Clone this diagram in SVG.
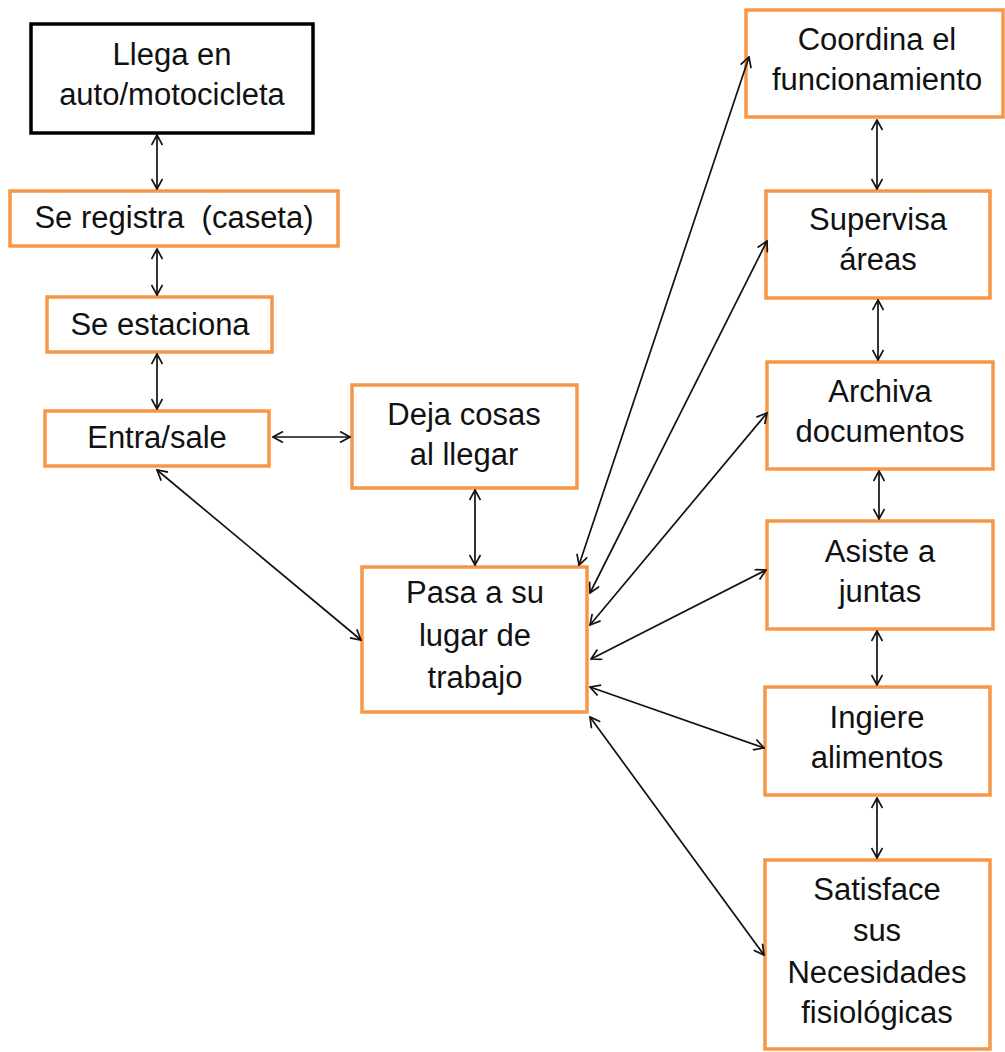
<svg xmlns="http://www.w3.org/2000/svg" width="1005" height="1052" viewBox="0 0 1005 1052">
<style>
.box{fill:#fff;stroke:#F79646;stroke-width:3.5}
.black{fill:#fff;stroke:#000;stroke-width:3.5}
text{font-family:"Liberation Sans",Arial,sans-serif;font-size:31px;fill:#111;text-anchor:middle}
.c line{stroke:#111;stroke-width:1.7;marker-start:url(#ah);marker-end:url(#ah)}
</style>
<defs>
<marker id="ah" viewBox="0 0 12 12" refX="11" refY="6" markerWidth="12" markerHeight="12" markerUnits="userSpaceOnUse" orient="auto-start-reverse">
<path d="M1,0.5 L11,6 L1,11.5" fill="none" stroke="#111" stroke-width="1.7"/>
</marker>
</defs>
<rect width="1005" height="1052" fill="#fff"/>
<g id="n1"><rect class="black" x="31" y="24" width="282" height="109"/><text x="172" y="65">Llega en</text><text x="172" y="105">auto/motocicleta</text></g>
<g id="n2"><rect class="box" x="10" y="191" width="328" height="55"/><text x="174" y="228" xml:space="preserve">Se registra  (caseta)</text></g>
<g id="n3"><rect class="box" x="47" y="297" width="225" height="55"/><text x="160" y="335">Se estaciona</text></g>
<g id="n4"><rect class="box" x="45" y="411" width="224" height="55"/><text x="157" y="448">Entra/sale</text></g>
<g id="n5"><rect class="box" x="352" y="385" width="225" height="103"/><text x="464" y="425">Deja cosas</text><text x="464" y="465">al llegar</text></g>
<g id="n6"><rect class="box" x="362" y="567" width="225" height="145"/><text x="475" y="603">Pasa a su</text><text x="475" y="646">lugar de</text><text x="475" y="688">trabajo</text></g>
<g id="n7"><rect class="box" x="746" y="10" width="257" height="107"/><text x="877" y="50">Coordina el</text><text x="877" y="90">funcionamiento</text></g>
<g id="n8"><rect class="box" x="766" y="191" width="224" height="107"/><text x="878" y="230">Supervisa</text><text x="878" y="270">áreas</text></g>
<g id="n9"><rect class="box" x="767" y="362" width="226" height="107"/><text x="880" y="402">Archiva</text><text x="880" y="442">documentos</text></g>
<g id="n10"><rect class="box" x="767" y="521" width="226" height="108"/><text x="880" y="562">Asiste a</text><text x="880" y="602">juntas</text></g>
<g id="n11"><rect class="box" x="765" y="687" width="225" height="108"/><text x="877" y="728">Ingiere</text><text x="877" y="768">alimentos</text></g>
<g id="n12"><rect class="box" x="765" y="860" width="225" height="189"/><text x="877" y="900">Satisface</text><text x="877" y="941">sus</text><text x="877" y="983">Necesidades</text><text x="877" y="1023">fisiológicas</text></g>
<g class="c" id="connectors">
<line x1="157" y1="135" x2="157" y2="189"/>
<line x1="157" y1="249" x2="157" y2="295"/>
<line x1="157" y1="354" x2="157" y2="409"/>
<line x1="273" y1="437" x2="350" y2="437"/>
<line x1="157" y1="470" x2="361" y2="640"/>
<line x1="475" y1="490" x2="475" y2="565"/>
<line x1="749" y1="57" x2="579" y2="565"/>
<line x1="767" y1="241" x2="590" y2="593"/>
<line x1="767" y1="413" x2="590" y2="625"/>
<line x1="766" y1="570" x2="591" y2="659"/>
<line x1="590" y1="687" x2="764" y2="748"/>
<line x1="590" y1="717" x2="764" y2="955"/>
<line x1="877" y1="120" x2="877" y2="189"/>
<line x1="878" y1="300" x2="878" y2="360"/>
<line x1="879" y1="471" x2="879" y2="519"/>
<line x1="877" y1="631" x2="877" y2="685"/>
<line x1="877" y1="798" x2="877" y2="858"/>
</g>
</svg>
